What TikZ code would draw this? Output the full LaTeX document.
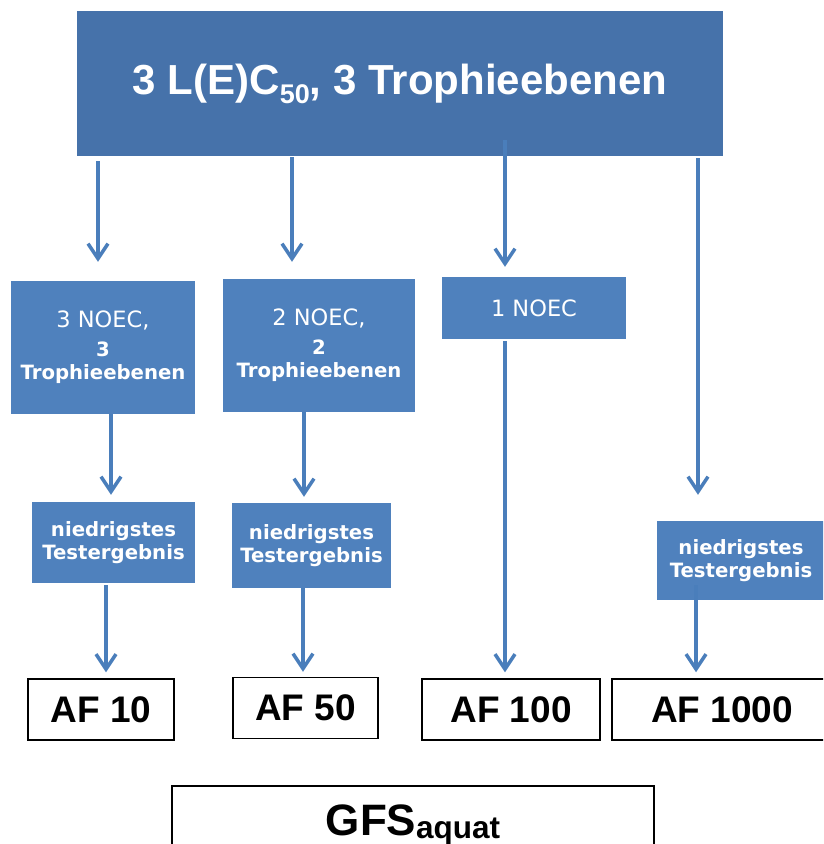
\documentclass[tikz,border=0pt]{standalone}
\usepackage{fontspec}
\setmainfont{Liberation Sans}
\newfontfamily\boxfont{DejaVu Sans}
\usetikzlibrary{arrows.meta}
\definecolor{topblue}{HTML}{4672AA}
\definecolor{boxblue}{HTML}{4F81BD}
\definecolor{arrowblue}{HTML}{4A7EBB}
\tikzset{
  stepbox/.style={fill=boxblue,text=white,inner sep=0pt,align=center,font=\boxfont\bfseries\fontsize{19.7}{23}\selectfont},
  afbox/.style={draw=black,line width=1.5pt,inner sep=0pt,minimum height=61pt,font=\bfseries\fontsize{37}{37}\selectfont},
  flow/.style={arrowblue,line width=3.5pt,-{Straight Barb[length=15pt,width=20pt]}},
}
\newcommand{\noec}[1]{{\mdseries\fontsize{22.5}{23}\selectfont #1}}
\begin{document}
\begin{tikzpicture}[x=1pt,y=-1pt]
	\useasboundingbox (0,0) rectangle (823,844);
	\clip (0,0) rectangle (823,844);
	\node[fill=topblue,text=white,minimum width=646pt,minimum height=145pt,font=\bfseries\fontsize{42}{42}\selectfont] (top) at (400,83.5) {3 L(E)C\raisebox{-9pt}{\fontsize{27}{27}\selectfont 50}, 3 Trophieebenen};
	\node[stepbox,minimum width=184pt,minimum height=133pt] (a1) at (103,347.5) {\noec{3 NOEC,}\\[6pt]3\\Trophieebenen};
	\node[stepbox,minimum width=192pt,minimum height=133pt] (a2) at (319,345.5) {\noec{2 NOEC,}\\[6pt]2\\Trophieebenen};
	\node[stepbox,minimum width=184pt,minimum height=62pt] (a3) at (534,308) {\noec{1 NOEC}};
	\node[stepbox,minimum width=163pt,minimum height=81pt] (b1) at (113.5,542.5) {niedrigstes\\Testergebnis};
	\node[stepbox,minimum width=159pt,minimum height=85pt] (b2) at (311.5,545.5) {niedrigstes\\Testergebnis};
	\node[stepbox,minimum width=168pt,minimum height=79pt] (b4) at (741,560.5) {niedrigstes\\Testergebnis};
	\foreach \Name/\Pos/\Wd in {10/{(101,709.5)}/146,50/{(305.5,708)}/145,100/{(511,709.5)}/178,1000/{(722,709.5)}/220}
		\node[afbox,minimum width=\Wd pt] (af\Name) at \Pos {AF \Name};
	\node[afbox,minimum width=482pt,minimum height=120pt,anchor=north] (gfs) at (413,785) {};
	\node[anchor=base,inner sep=0pt,font=\bfseries\fontsize{44}{44}\selectfont] (gfstext) at ([yshift=-50pt]gfs.north) {GFS\raisebox{-3pt}{\fontsize{31.5}{31.5}\selectfont aquat}};
	\foreach \Src/\Dst/\Dx/\Sa/\Sb in {top/a1/-5/5/19,top/a2/-27/1/17,top/a3/-29/-16/10,top/b4/-43/2/26,a1/b1/-2.5/0/7,a2/b2/-7.5/0/6,a3/af100/-6/2/6,b1/af10/5/2/6,b2/af50/-2.5/0/5,b4/af1000/-26/-15/6}
		\draw[flow,shorten <=\Sa pt,shorten >=\Sb pt] ([xshift=\Dx pt]\Dst.north |- \Src.south) -- ([xshift=\Dx pt]\Dst.north);
\end{tikzpicture}
\end{document}
